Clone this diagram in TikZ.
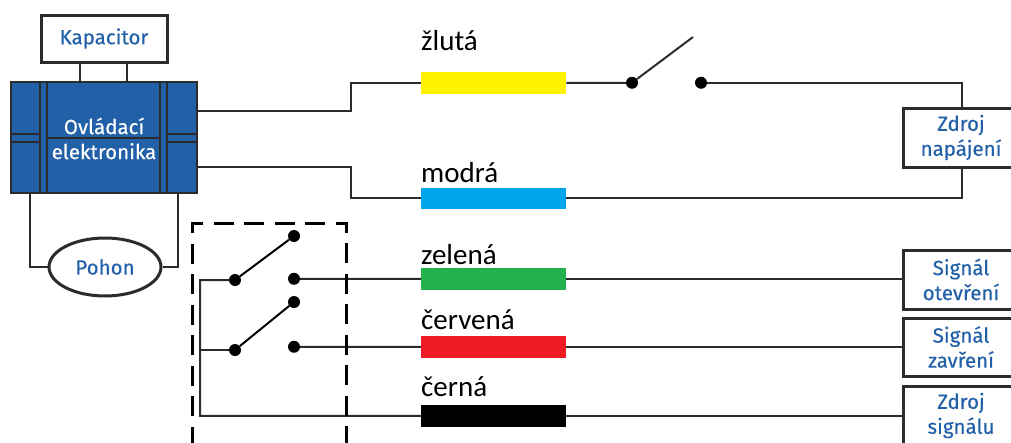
\documentclass[tikz,border=0pt]{standalone}
\usepackage{fontspec}
\setmainfont{Carlito}
\newfontfamily\labelfont[FakeBold=0.3]{Fira Sans}
\usetikzlibrary{positioning,shapes.geometric}
\definecolor{ctrlblue}{HTML}{2260A8}
\definecolor{wiregrey}{HTML}{2B2B2B}
\definecolor{wireyellow}{HTML}{FFF200}
\definecolor{wirecyan}{HTML}{00A5EA}
\definecolor{wiregreen}{HTML}{22B14C}
\definecolor{wirered}{HTML}{ED1C24}
\tikzset{
  wire/.style={draw=wiregrey,line width=2pt},
  unitbox/.style={draw=wiregrey,line width=3pt,fill=white,text=ctrlblue,align=center,font=\labelfont\fontsize{20.5}{25}\selectfont,inner sep=0pt},
  colorbar/.style={minimum width=145pt,minimum height=21.5pt,inner sep=0pt,anchor=north west},
  colorlabel/.style={anchor=base west,inner sep=0pt,font=\fontsize{29}{32}\selectfont},
  contact/.style={circle,fill=black,inner sep=0pt,minimum size=12pt},
  strip/.style={draw=wiregrey,line width=2pt,fill=ctrlblue}
}
\begin{document}
\begin{tikzpicture}[x=1pt,y=-1pt]
  \useasboundingbox (0,0) rectangle (1011,442);

  \node[unitbox,minimum width=126pt,minimum height=47pt] (kapacitor) at (104,38.5) {Kapacitor};
  \node[strip,minimum width=186pt,minimum height=111pt,inner sep=0pt] (ovladani) at (104,137.5) {};
  \draw[strip] (40,82) rectangle (47,193);
  \draw[strip] (160,82) rectangle (167,193);
  \draw[strip] (11,134) rectangle (40,142);
  \draw[strip] (167,134) rectangle (197,142);
  \draw[wiregrey,line width=2pt] (47,137.5) -- (160,137.5);
  \node[text=white,align=center,font=\labelfont\fontsize{20.5}{25}\selectfont,inner sep=0pt] (ovladanitext) at (104,138.5) {Ovládací\\elektronika};
  \node[unitbox,ellipse,minimum width=112pt,minimum height=58pt] (pohon) at (105,267) {Pohon};

  \draw[wire] (kapacitor.south -| 80,0) -- (ovladani.north -| 80,0);
  \draw[wire] (kapacitor.south -| 127,0) -- (ovladani.north -| 127,0);
  \draw[wire] (ovladani.south -| 30,0) |- (pohon.west);
  \draw[wire] (ovladani.south -| 178,0) |- (pohon.east);

  \node[colorbar,fill=wireyellow] (zluta) at (421,72) {};
  \node[colorbar,fill=wirecyan] (modra) at (421,187.5) {};
  \node[colorbar,fill=wiregreen] (zelena) at (421,268) {};
  \node[colorbar,fill=wirered] (cervena) at (421,336) {};
  \node[colorbar,fill=black] (cerna) at (421,405) {};

  \node[colorlabel] (zlutatext) at (421,50) {žlutá};
  \node[colorlabel] (modratext) at (421,182) {modrá};
  \node[colorlabel] (zelenatext) at (421,264) {zelená};
  \node[colorlabel] (cervenatext) at (421,329) {červená};
  \node[colorlabel] (cernatext) at (421,396) {černá};

  \node[unitbox,minimum width=116pt,minimum height=59pt] (napajeni) at (961,137.5) {Zdroj\\napájení};
  \node[unitbox,minimum width=116pt,minimum height=59pt] (otevreni) at (961,279.5) {Signál\\otevření};
  \node[unitbox,minimum width=116pt,minimum height=58pt] (zavreni) at (961,347) {Signál\\zavření};
  \node[unitbox,minimum width=116pt,minimum height=59pt] (signalu) at (961,415.5) {Zdroj\\signálu};

  \node[contact] (spinacA) at (632,82.75) {};
  \node[contact] (spinacB) at (701,82.75) {};
  \coordinate (spinacEnd) at (693,37);
  \node[contact] (horniA) at (235,280) {};
  \node[contact] (horniB) at (294,236) {};
  \node[contact] (horniC) at (294,278.75) {};
  \node[contact] (dolniA) at (235,350) {};
  \node[contact] (dolniB) at (294,302) {};
  \node[contact] (dolniC) at (294,346.75) {};

  \coordinate (ovlHorni) at (197,111);
  \coordinate (ovlDolni) at (197,167);
  \coordinate (bus) at (200,415.75);

  \draw[wire] (ovlHorni) -- (351,111) |- (zluta.west);
  \draw[wire] (ovlDolni) -- (351,167) |- (modra.west);
  \draw[wire] (zluta.east) -- (spinacA);
  \draw[wire] (spinacA) -- (spinacEnd);
  \draw[wire] (spinacB) -| (napajeni.north -| 962,0);
  \draw[wire] (modra.east) -| (napajeni.south -| 962,0);

  \draw[wire] (horniC) -- (zelena.west);
  \draw[wire] (zelena.east) -- (zelena.east -| otevreni.west);
  \draw[wire] (dolniC) -- (cervena.west);
  \draw[wire] (cervena.east) -- (cervena.east -| zavreni.west);
  \draw[wire] (horniA) -| (bus) -- (cerna.west);
  \draw[wire] (dolniA) -- (dolniA -| bus);
  \draw[wire] (cerna.east) -- (cerna.east -| signalu.west);
  \draw[wire,draw=black] (horniA) -- (horniB);
  \draw[wire,draw=black] (dolniA) -- (dolniB);

  \draw[black,line width=2.2pt,dash pattern=on 20pt off 10.5pt,dash phase=0.5pt] (192.5,446) -- (192.5,223.5) -- (346.5,223.5) -- (346.5,446);
\end{tikzpicture}
\end{document}
